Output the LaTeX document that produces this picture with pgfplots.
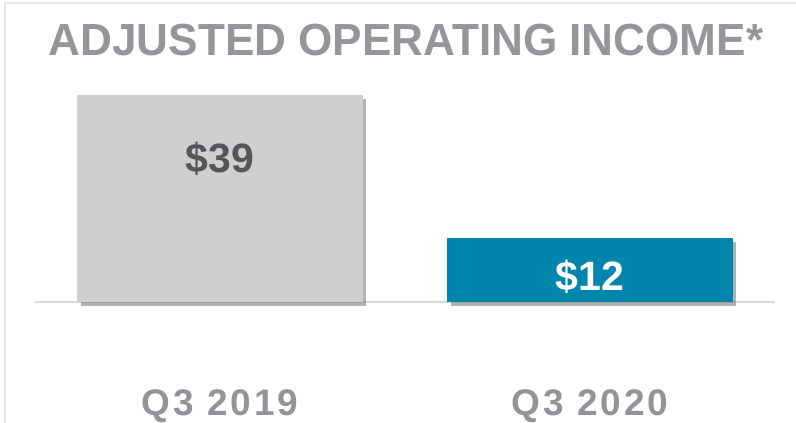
\documentclass[border=0pt]{standalone}
\usepackage{pgfplots}
\pgfplotsset{compat=1.18}
\usepackage{fontspec}
\setmainfont{Liberation Sans}
\usetikzlibrary{shadows}
\definecolor{titlegray}{RGB}{148,150,153}
\definecolor{labgray}{RGB}{146,149,152}
\definecolor{bargray}{RGB}{208,206,207}
\definecolor{barteal}{RGB}{0,134,173}
\definecolor{valdark}{RGB}{83,87,90}
\definecolor{basegray}{RGB}{217,217,217}
\definecolor{framegray}{RGB}{230,230,230}
\begin{document}
\begin{tikzpicture}[x=1bp,y=1bp]
\begin{axis}[
  at={(35bp,121bp)}, anchor=south west,
  scale only axis, width=740bp, height=238.5bp,
  xmin=-0.5, xmax=1.5, ymin=0, ymax=45,
  clip=false,
  axis x line=bottom, axis y line=none,
  x axis line style={draw=basegray, line width=1.3bp, -},
  xtick={0,1}, xticklabels={Q3 2019, Q3 2020},
  xtick style={draw=none},
  ytick=\empty,
  xticklabel style={anchor=base, yshift=-111bp, text=labgray, inner sep=0pt,
    font=\fontsize{37bp}{41bp}\selectfont\bfseries\addfontfeature{LetterSpace=8}},
  bar width=0.772,
]
\addplot[ybar, bar shift=0pt, fill=bargray, draw=none,
  drop shadow={shadow xshift=3.5bp, shadow yshift=-3.5bp, fill=black!60, opacity=0.5}]
  coordinates {(0,39)};
\addplot[ybar, bar shift=0pt, fill=barteal, draw=none,
  drop shadow={shadow xshift=3.5bp, shadow yshift=-3.5bp, fill=black!60, opacity=0.5}]
  coordinates {(1,12)};
\node[anchor=base, text=valdark, font=\fontsize{41bp}{45bp}\selectfont\bfseries]
  at (axis cs:0,24.5) {\$39};
\node[anchor=base, text=white, font=\fontsize{41bp}{45bp}\selectfont\bfseries]
  at (axis cs:1,2.1) {\$12};
\end{axis}
\node[anchor=base, text=titlegray, xscale=0.98, inner sep=0pt,
  font=\fontsize{45bp}{50bp}\selectfont\bfseries] at (406bp,367bp)
  {ADJUSTED OPERATING INCOME*};
\draw[framegray, line width=1.2bp] (5bp,0bp) -- (5bp,420bp) -- (796bp,420bp);
\pgfresetboundingbox
\path[use as bounding box] (0bp,0bp) rectangle (796bp,423bp);
\end{tikzpicture}
\end{document}
